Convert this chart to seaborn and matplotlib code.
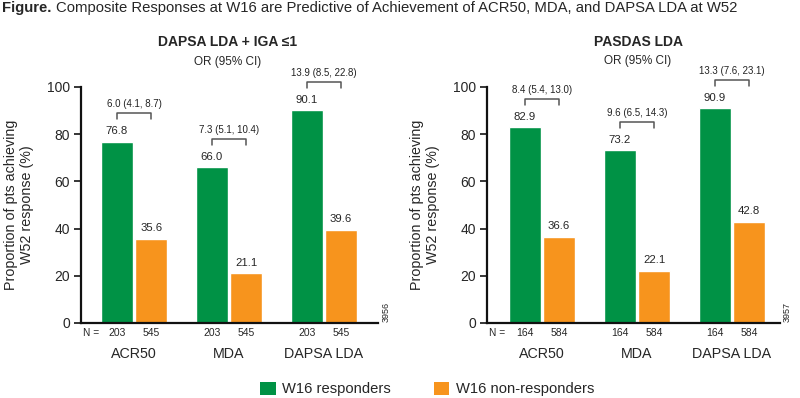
import numpy as np
import pandas as pd
import matplotlib
matplotlib.use("Agg")
import matplotlib.pyplot as plt
import seaborn as sns
from matplotlib.patches import Patch

categories = ["ACR50", "MDA", "DAPSA LDA"]
groups = ["W16 responders", "W16 non-responders"]

dapsa_resp = [76.8, 66.0, 90.1]
dapsa_nonresp = [35.6, 21.1, 39.6]
dapsa_n = ["203", "545"]
dapsa_or = ["6.0 (4.1, 8.7)", "7.3 (5.1, 10.4)", "13.9 (8.5, 22.8)"]

pasdas_resp = [82.9, 73.2, 90.9]
pasdas_nonresp = [36.6, 22.1, 42.8]
pasdas_n = ["164", "584"]
pasdas_or = ["8.4 (5.4, 13.0)", "9.6 (6.5, 14.3)", "13.3 (7.6, 23.1)"]

colors = ["#009245", "#f7941d"]

sns.set_style("ticks")
plt.rcParams["font.family"] = ["Liberation Sans", "DejaVu Sans"]


def draw_panel(ax, resp, nonresp, n, ors, code, xlim):
    df = pd.DataFrame({
        "outcome": categories * 2,
        "group": [groups[0]] * 3 + [groups[1]] * 3,
        "value": resp + nonresp,
    })
    sns.barplot(data=df, x="outcome", y="value", hue="group", palette=colors,
                width=0.72, gap=0.05, saturation=1, errorbar=None,
                legend=False, ax=ax)
    for cont in ax.containers:
        ax.bar_label(cont, fmt="%.1f", padding=4, fontsize=8.2)

    # odds ratio brackets
    for i in range(len(categories)):
        g = ax.containers[0][i]
        o = ax.containers[1][i]
        x0 = g.get_x() + g.get_width() / 2
        x1 = o.get_x() + o.get_width() / 2
        top = resp[i] + 12
        ax.plot([x0, x0, x1, x1], [top - 2.5, top, top, top - 2.5],
                color="#555555", lw=1.1, clip_on=False)
        ax.annotate(ors[i], xy=((x0 + x1) / 2, top), xytext=(0, 3),
                    textcoords="offset points", ha="center", va="bottom",
                    fontsize=7, color="#222222", annotation_clip=False)

    # N row
    trans = ax.get_yaxis_transform()
    ax.text(0.008, -4.2, "N =", transform=trans, ha="left", va="center",
            fontsize=7.3)
    for i in range(len(categories)):
        for j in range(2):
            r = ax.containers[j][i]
            ax.text(r.get_x() + r.get_width() / 2, -4.2, n[j], ha="center",
                    va="center", fontsize=7.5, clip_on=False)

    ax.text(1.026, 0.045, code, transform=ax.transAxes, rotation=90,
            ha="center", va="center", fontsize=6.5)

    ax.set_xlim(*xlim)
    ax.set_ylim(0, 100)
    ax.set_yticks([0, 20, 40, 60, 80, 100])
    ax.set_xlabel("")
    ax.set_ylabel("Proportion of pts achieving\nW52 response (%)",
                  fontsize=10.3, labelpad=9, linespacing=1.2,
                  multialignment="center")
    ax.tick_params(axis="y", length=5, width=1.3, labelsize=10, pad=3)
    ax.tick_params(axis="x", length=0, labelsize=10.3, pad=17)
    sns.despine(ax=ax)
    for s in ["left", "bottom"]:
        ax.spines[s].set_linewidth(1.6)
        ax.spines[s].set_color("#111111")


fig = plt.figure(figsize=(8, 3.98), dpi=100)
ax1 = fig.add_axes([81 / 800, 75 / 398, 297 / 800, 236 / 398])
ax2 = fig.add_axes([487 / 800, 75 / 398, 293 / 800, 236 / 398])

draw_panel(ax1, dapsa_resp, dapsa_nonresp, dapsa_n, dapsa_or, "3956",
           (-0.558, 2.568))
draw_panel(ax2, pasdas_resp, pasdas_nonresp, pasdas_n, pasdas_or, "3957",
           (-0.579, 2.505))

fig.text(228 / 800, 1 - 42 / 398, "DAPSA LDA + IGA ≤1", ha="center",
         va="center", fontsize=10, fontweight="bold")
fig.text(228 / 800, 1 - 62 / 398, "OR (95% CI)", ha="center", va="center",
         fontsize=8.5)
fig.text(638 / 800, 1 - 42 / 398, "PASDAS LDA", ha="center", va="center",
         fontsize=10, fontweight="bold")
fig.text(638 / 800, 1 - 61 / 398, "OR (95% CI)", ha="center", va="center",
         fontsize=8.5)

t1 = fig.text(0.003, 1 - 12 / 398, "Figure.", fontsize=10.7,
              fontweight="bold", ha="left", va="baseline")
ax1.annotate("Composite Responses at W16 are Predictive of Achievement of "
             "ACR50, MDA, and DAPSA LDA at W52",
             xy=(1, 0), xycoords=t1, xytext=(3, 0), textcoords="offset points",
             ha="left", va="bottom", fontsize=10.7, annotation_clip=False)

handles = [Patch(facecolor=c, edgecolor="none", label=g)
           for c, g in zip(colors, groups)]
fig.legend(handles=handles, loc="center", bbox_to_anchor=(0.534, 9 / 398),
           ncol=2, frameon=False, fontsize=10.6, handlelength=1.05,
           handleheight=1.05, handletextpad=0.45, columnspacing=2.9,
           borderaxespad=0, borderpad=0)

fig.savefig("out.png", dpi=100)
